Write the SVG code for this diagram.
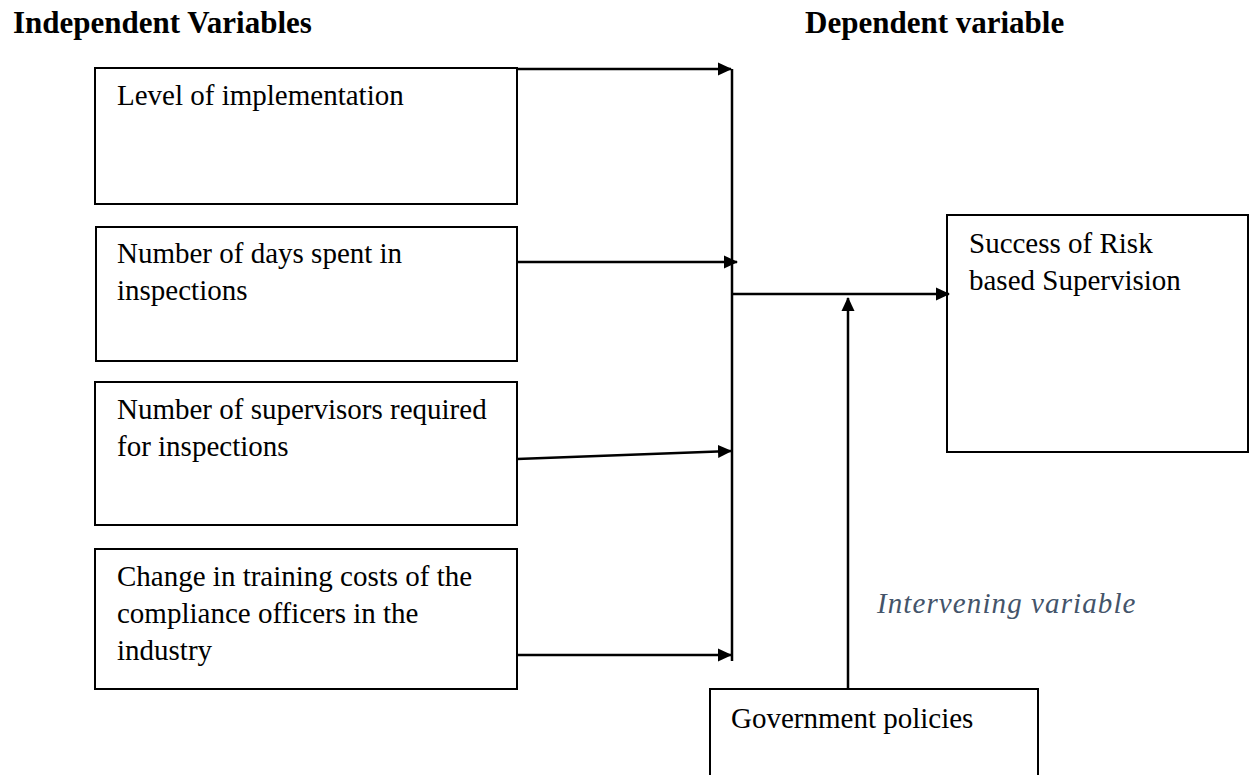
<svg xmlns="http://www.w3.org/2000/svg" width="1249" height="775" viewBox="0 0 1249 775">
  <style>
    .box { fill: #ffffff; stroke: #000000; stroke-width: 2; }
    .label { font-family: "Liberation Serif", "Times New Roman", serif; font-size: 29px; fill: #000000; }
    .heading { font-family: "Liberation Serif", "Times New Roman", serif; font-size: 31px; font-weight: bold; fill: #000000; }
    .note { font-family: "Liberation Serif", "Times New Roman", serif; font-size: 29px; font-style: italic; fill: #44546A; letter-spacing: 1.1px; }
    .wire { fill: none; stroke: #000000; stroke-width: 2.5; }
  </style>
  <defs>
    <marker id="arrow" markerWidth="14" markerHeight="14" refX="13" refY="7" orient="auto" markerUnits="userSpaceOnUse">
      <path d="M0,0.5 L14,7 L0,13.5 Z" fill="#000000"/>
    </marker>
  </defs>

  <rect width="1249" height="775" fill="#ffffff"/>

  <text class="heading" x="13" y="33">Independent Variables</text>
  <text class="heading" x="805" y="33">Dependent variable</text>

  <g id="node-level">
    <rect class="box" x="95" y="68" width="422" height="136"/>
    <text class="label" x="117" y="105">Level of implementation</text>
  </g>

  <g id="node-days">
    <rect class="box" x="96" y="227" width="421" height="134"/>
    <text class="label" x="117" y="263">Number of days spent in</text>
    <text class="label" x="117" y="300">inspections</text>
  </g>

  <g id="node-supervisors">
    <rect class="box" x="95" y="382" width="422" height="143"/>
    <text class="label" x="117" y="419">Number of supervisors required</text>
    <text class="label" x="117" y="456">for inspections</text>
  </g>

  <g id="node-training">
    <rect class="box" x="95" y="549" width="422" height="140"/>
    <text class="label" x="117" y="586">Change in training costs of the</text>
    <text class="label" x="117" y="623">compliance officers in the</text>
    <text class="label" x="117" y="660">industry</text>
  </g>

  <g id="node-success">
    <rect class="box" x="947" y="215" width="301" height="237"/>
    <text class="label" x="969" y="253">Success of Risk</text>
    <text class="label" x="969" y="290">based Supervision</text>
  </g>

  <g id="node-government">
    <path class="box" d="M710,777 L710,689 L1038,689 L1038,777"/>
    <text class="label" x="731" y="728">Government policies</text>
  </g>

  <text class="note" x="877" y="613">Intervening variable</text>

  <g id="connectors">
    <!-- collector bar -->
    <line class="wire" x1="732" y1="69" x2="732" y2="661"/>
    <!-- independent variables into the bar -->
    <line class="wire" x1="517" y1="69" x2="731" y2="69" marker-end="url(#arrow)"/>
    <line class="wire" x1="517" y1="262" x2="737" y2="262" marker-end="url(#arrow)"/>
    <line class="wire" x1="517" y1="459" x2="731" y2="451" marker-end="url(#arrow)"/>
    <line class="wire" x1="517" y1="655" x2="731" y2="655" marker-end="url(#arrow)"/>
    <!-- bar to dependent variable -->
    <line class="wire" x1="732" y1="294" x2="949" y2="294" marker-end="url(#arrow)"/>
    <!-- intervening variable -->
    <line class="wire" x1="848" y1="689" x2="848" y2="298" marker-end="url(#arrow)"/>
  </g>
</svg>
